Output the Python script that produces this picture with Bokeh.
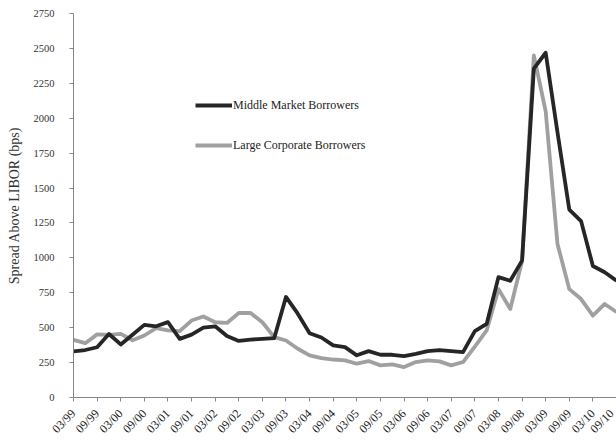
import math
from bokeh.plotting import figure
from bokeh.models import Range1d, FixedTicker, Legend, LegendItem, ColumnDataSource
from bokeh.embed import file_html
from bokeh.resources import INLINE

# Quarterly observations, 03/99 .. 09/10
middle_market = [330, 340, 360, 455, 380, 450, 520, 510, 540, 420,
                 450, 500, 510, 440, 405, 415, 420, 425, 720, 600,
                 460, 430, 373, 361, 302, 332, 306, 306, 297, 313,
                 332, 340, 332, 325, 475, 527, 862, 836, 980, 2356,
                 2469, 1900, 1346, 1263, 942, 897, 836]
large_corporate = [413, 389, 452, 449, 456, 410, 444, 496, 480, 475,
                   551, 580, 539, 534, 605, 605, 539, 432, 408, 349,
                   302, 282, 272, 266, 242, 261, 230, 237, 218, 254,
                   266, 259, 230, 254, 365, 480, 776, 634, 978, 2450,
                   2050, 1100, 776, 705, 586, 670, 612]
tick_labels = ["03/99", "09/99", "03/00", "09/00", "03/01", "09/01",
               "03/02", "09/02", "03/03", "09/03", "03/04", "09/04",
               "03/05", "09/05", "03/06", "09/06", "03/07", "09/07",
               "03/08", "09/08", "03/09", "09/09", "03/10", "09/10"]
y_ticks = [0, 250, 500, 750, 1000, 1250, 1500, 1750, 2000, 2250, 2500, 2750]

quarter = list(range(len(middle_market)))
tick_pos = [2 * k for k in range(len(tick_labels))]

FONT = "Liberation Serif"

src = ColumnDataSource(dict(q=quarter, mid=middle_market, large=large_corporate))

p = figure(width=616, height=443, output_backend="svg", toolbar_location=None,
           x_range=Range1d(0, 46), y_range=Range1d(0, 2750),
           min_border_left=73, min_border_right=0, min_border_top=13,
           min_border_bottom=44)
p.outline_line_color = None
p.xgrid.visible = False
p.ygrid.visible = False

r_large = p.line("q", "large", source=src, line_color="#a0a0a0", line_width=3.8,
                 line_join="round")
r_mid = p.line("q", "mid", source=src, line_color="#262626", line_width=3.8,
               line_join="round")

axis_color = "#868686"
# y axis
p.yaxis.ticker = FixedTicker(ticks=y_ticks)
p.yaxis.minor_tick_line_color = None
p.yaxis.major_tick_in = 0
p.yaxis.major_tick_out = 4
p.yaxis.major_label_standoff = 15
p.yaxis.axis_line_color = axis_color
p.yaxis.major_tick_line_color = axis_color
p.yaxis.major_label_text_font = FONT
p.yaxis.major_label_text_font_size = "10.5px"
p.yaxis.major_label_text_color = "#333333"
p.yaxis.axis_label = "Spread Above LIBOR (bps)"
p.yaxis.axis_label_text_font = FONT
p.yaxis.axis_label_text_font_size = "14px"
p.yaxis.axis_label_text_font_style = "normal"
p.yaxis.axis_label_text_color = "#333333"
p.yaxis.axis_label_standoff = 9

# x axis
p.xaxis.ticker = FixedTicker(ticks=tick_pos)
p.xaxis.major_label_overrides = {t: lab for t, lab in zip(tick_pos, tick_labels)}
p.xaxis.minor_tick_line_color = None
p.xaxis.major_tick_in = 0
p.xaxis.major_tick_out = 4
p.xaxis.axis_line_color = axis_color
p.xaxis.major_tick_line_color = axis_color
p.xaxis.major_label_orientation = math.pi / 4
p.xaxis.major_label_text_font = FONT
p.xaxis.major_label_text_font_size = "12px"
p.xaxis.major_label_text_color = "#222222"
p.xaxis.major_label_standoff = 10

legend = Legend(items=[LegendItem(label="Middle Market Borrowers", renderers=[r_mid]),
                       LegendItem(label="Large Corporate Borrowers", renderers=[r_large])],
                location=(122, 242), orientation="vertical",
                glyph_width=37, glyph_height=20, label_height=20, spacing=20,
                padding=0, margin=0, border_line_color=None,
                background_fill_alpha=0, label_text_font=FONT,
                label_text_font_size="12px", label_standoff=1,
                label_text_color="#222222")
p.add_layout(legend)

open("out.html", "w").write(file_html(p, INLINE))
